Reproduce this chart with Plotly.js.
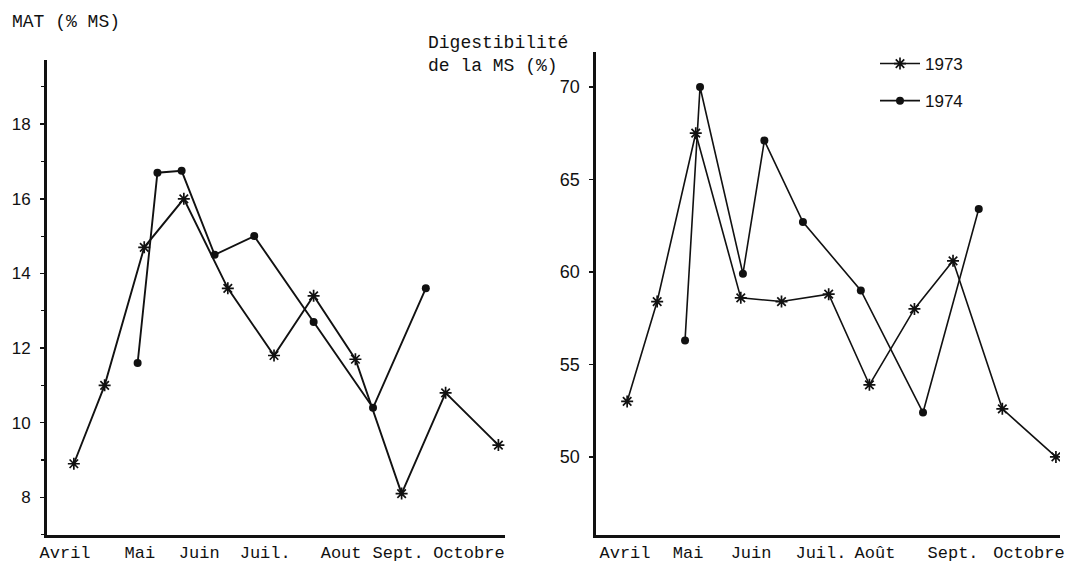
<!DOCTYPE html>
<html>
<head>
<meta charset="utf-8">
<script src="https://cdn.plot.ly/plotly-3.0.1.min.js"></script>
<style>
  html, body { margin: 0; padding: 0; background: #ffffff; }
  #chart { width: 1073px; height: 562px; }
</style>
</head>
<body>
<div id="chart"></div>
<script>
// Month labels (x axes: day of season counted from 1 April)
const monthLabelsLeft = ["Avril", "Mai", "Juin", "Juil.", "Aout", "Sept.", "Octobre"];
const monthPosLeft = [15, 49, 76, 106, 140.5, 166.4, 198.6];
const monthLabelsRight = ["Avril", "Mai", "Juin", "Juil.", "Août", "Sept.", "Octobre"];
const monthPosRight = [15, 44.4, 73.8, 106.4, 131.6, 168, 203.4];

// Left panel: MAT (% MS)
const matDays1973 = [19, 33, 51, 69, 89, 110, 128, 147, 168, 188, 212];
const mat1973 = [8.9, 11.0, 14.7, 16.0, 13.6, 11.8, 13.4, 11.7, 8.1, 10.8, 9.4];
const matDays1974 = [48, 57, 68, 83, 101, 128, 155, 179];
const mat1974 = [11.6, 16.7, 16.75, 14.5, 15.0, 12.7, 10.4, 13.6];

// Right panel: Digestibilité de la MS (%)
const digDays1973 = [16, 30, 48, 69, 88, 110, 129, 150, 168, 191, 216];
const dig1973 = [53.0, 58.4, 67.5, 58.6, 58.4, 58.8, 53.9, 58.0, 60.6, 52.6, 50.0];
const digDays1974 = [43, 50, 70, 80, 98, 125, 154, 180];
const dig1974 = [56.3, 70.0, 59.9, 67.1, 62.7, 59.0, 52.4, 63.4];

const yearNames = ["1973", "1974"];

const ink = "#111111";
const mono = "Liberation Mono, Courier New, monospace";
const sans = "Liberation Sans, Arial, sans-serif";

const star = { symbol: "asterisk-open", size: 10, color: ink, line: { color: ink, width: 1.7 } };
const dot = { symbol: "circle", size: 8, color: ink, line: { width: 0 } };

const traces = [
  { x: matDays1973, y: mat1973, xaxis: "x", yaxis: "y", mode: "lines+markers",
    line: { color: ink, width: 1.9 }, marker: star, showlegend: false, name: yearNames[0] },
  { x: matDays1974, y: mat1974, xaxis: "x", yaxis: "y", mode: "lines+markers",
    line: { color: ink, width: 1.9 }, marker: dot, showlegend: false, name: yearNames[1] },
  { x: digDays1973, y: dig1973, xaxis: "x2", yaxis: "y2", mode: "lines+markers",
    line: { color: ink, width: 1.6 }, marker: star, name: yearNames[0], legendgroup: "a" },
  { x: digDays1974, y: dig1974, xaxis: "x2", yaxis: "y2", mode: "lines+markers",
    line: { color: ink, width: 1.6 }, marker: dot, name: yearNames[1], legendgroup: "b" }
];

const W = 1073, H = 562;
function px(x) { return x / W; }
function py(y) { return 1 - y / H; }

const xCommon = {
  showgrid: false, zeroline: false, showline: true, linecolor: ink, linewidth: 3,
  ticks: "", tickmode: "array", tickfont: { family: mono, size: 17, color: ink },
  fixedrange: true
};
const yCommon = {
  showgrid: false, zeroline: false, showline: true, linecolor: ink, linewidth: 3,
  ticks: "outside", ticklen: 4, tickwidth: 1.5, tickcolor: ink,
  tickfont: { family: sans, size: 17, color: ink }, fixedrange: true
};

const layout = {
  width: W, height: H,
  margin: { l: 0, r: 0, t: 0, b: 0, pad: 0 },
  paper_bgcolor: "#ffffff", plot_bgcolor: "#ffffff",
  xaxis: Object.assign({}, xCommon, {
    domain: [px(47), px(505)], range: [6.8, 215], anchor: "y",
    tickvals: monthPosLeft, ticktext: monthLabelsLeft
  }),
  yaxis: Object.assign({}, yCommon, {
    domain: [py(535), py(60)], range: [6.99, 19.72], anchor: "x",
    tickvals: [8, 10, 12, 14, 16, 18], ticklabelstandoff: 6,
    minor: { tickvals: [7, 9, 11, 13, 15, 17, 19], ticks: "outside", ticklen: 3, tickcolor: ink, tickwidth: 1.2 }
  }),
  xaxis2: Object.assign({}, xCommon, {
    domain: [px(596), px(1060)], range: [1.47, 217.9], anchor: "y2", linewidth: 2.6,
    tickvals: monthPosRight, ticktext: monthLabelsRight
  }),
  yaxis2: Object.assign({}, yCommon, {
    domain: [py(535), py(52)], range: [45.78, 71.89], anchor: "x2", linewidth: 2.6,
    tickvals: [50, 55, 60, 65, 70], ticklabelstandoff: 6,
    tickfont: { family: sans, size: 18, color: ink }
  }),
  showlegend: true,
  legend: {
    x: px(875), y: py(46), xanchor: "left", yanchor: "top",
    bgcolor: "rgba(0,0,0,0)", borderwidth: 0,
    font: { family: sans, size: 17, color: ink },
    tracegroupgap: 12, traceorder: "grouped", itemwidth: 40
  },
  annotations: [
    { text: "MAT (% MS)", xref: "paper", yref: "paper", x: px(10), y: py(22),
      xanchor: "left", yanchor: "middle", showarrow: false,
      font: { family: mono, size: 18, color: ink } },
    { text: "Digestibilité<br>de la MS (%)", xref: "paper", yref: "paper", x: px(426), y: py(55),
      xanchor: "left", yanchor: "middle", align: "left", showarrow: false,
      font: { family: mono, size: 18, color: ink } }
  ]
};

Plotly.newPlot("chart", traces, layout, { displayModeBar: false, staticPlot: true });
</script>
</body>
</html>
